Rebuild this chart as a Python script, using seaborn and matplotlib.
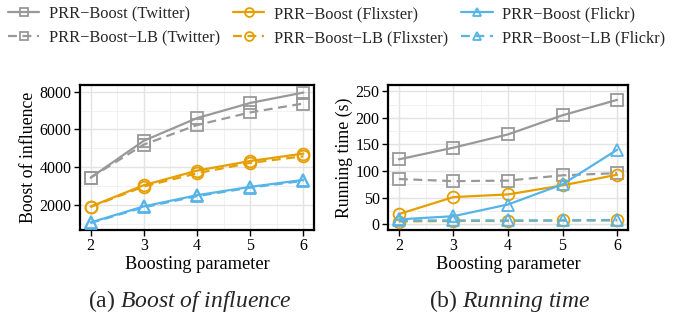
import numpy as np
import pandas as pd
import matplotlib
matplotlib.use("Agg")
import matplotlib.pyplot as plt
from matplotlib.ticker import MultipleLocator
import seaborn as sns

sns.set_theme(style="white")
plt.rcParams["font.family"] = ["Liberation Serif", "DejaVu Serif"]
plt.rcParams["mathtext.fontset"] = "custom"
plt.rcParams["mathtext.rm"] = "Liberation Serif"
plt.rcParams["mathtext.it"] = "Liberation Serif:italic"

k = [2, 3, 4, 5, 6]

# Boost of influence
boost_twitter = [3450, 5400, 6600, 7400, 7950]
boost_twitter_lb = [3450, 5200, 6230, 6900, 7370]
boost_flixster = [1920, 3050, 3820, 4330, 4720]
boost_flixster_lb = [1900, 2980, 3680, 4230, 4580]
boost_flickr = [1080, 1930, 2520, 2960, 3330]
boost_flickr_lb = [1050, 1880, 2470, 2920, 3280]

# Running time (s)
time_twitter = [122, 144, 169, 205, 234]
time_twitter_lb = [85, 81, 82, 92, 96]
time_flixster = [19, 51, 56, 73, 93]
time_flixster_lb = [5, 6, 6, 7, 7]
time_flickr = [9, 15, 37, 75, 140]
time_flickr_lb = [7, 7, 7, 7, 8]

labels = ["PRR\u2212Boost (Twitter)", "PRR\u2212Boost\u2212LB (Twitter)",
          "PRR\u2212Boost (Flixster)", "PRR\u2212Boost\u2212LB (Flixster)",
          "PRR\u2212Boost (Flickr)", "PRR\u2212Boost\u2212LB (Flickr)"]
colors = ["#999999", "#999999", "#E69F00", "#E69F00", "#56B4E9", "#56B4E9"]
markers = ["s", "s", "o", "o", "^", "^"]
dashed = [False, True, False, True, False, True]

boost_series = [boost_twitter, boost_twitter_lb, boost_flixster, boost_flixster_lb,
                boost_flickr, boost_flickr_lb]
time_series = [time_twitter, time_twitter_lb, time_flixster, time_flixster_lb,
               time_flickr, time_flickr_lb]

fig = plt.figure(figsize=(6.85, 3.13), dpi=100)
ax1 = fig.add_axes([80 / 685, 83 / 313, 234 / 685, 145 / 313])
ax2 = fig.add_axes([388 / 685, 83 / 313, 240 / 685, 145 / 313])


def draw(ax, series):
    handles = []
    for vals, lab, c, m, d in zip(series, labels, colors, markers, dashed):
        df = pd.DataFrame({"k": k, "v": vals})
        sns.lineplot(data=df, x="k", y="v", ax=ax, color=c, linewidth=1.6,
                     marker=m, markersize=8.5, markerfacecolor="none",
                     markeredgecolor=c, markeredgewidth=1.3,
                     linestyle=(0, (4, 2.5)) if d else "-", label=lab,
                     legend=False, clip_on=False, zorder=3)
        handles.append(ax.lines[-1])
    return handles


handles = draw(ax1, boost_series)
draw(ax2, time_series)

for ax in (ax1, ax2):
    ax.set_xlim(1.8, 6.2)
    ax.xaxis.set_major_locator(MultipleLocator(1))
    ax.xaxis.set_minor_locator(MultipleLocator(0.5))
    ax.grid(True, which="major", color="#e3e3e3", linewidth=1.0, zorder=0)
    ax.grid(True, which="minor", color="#efefef", linewidth=0.6, zorder=0)
    ax.set_axisbelow(True)
    for s in ax.spines.values():
        s.set_color("black")
        s.set_linewidth(1.6)
    ax.tick_params(axis="both", which="major", direction="out", length=4,
                   width=1, color="black", labelsize=11.5, labelcolor="black",
                   bottom=True, left=True, pad=2)
    ax.tick_params(axis="both", which="minor", length=0)
    ax.set_xlabel("Boosting parameter", fontsize=13.2, labelpad=1, color="black")

ax1.set_ylim(680, 8350)
ax1.yaxis.set_major_locator(MultipleLocator(2000))
ax1.yaxis.set_minor_locator(MultipleLocator(1000))
ax1.set_ylabel("Boost of influence", fontsize=12.8, labelpad=2, color="black")

ax2.set_ylim(-11, 262)
ax2.yaxis.set_major_locator(MultipleLocator(50))
ax2.yaxis.set_minor_locator(MultipleLocator(25))
ax2.set_ylabel("Running time (s)", fontsize=12.8, labelpad=2, color="black")

fig.legend(handles=handles, labels=labels, ncol=3, loc="upper left",
           bbox_to_anchor=(8 / 685, 1 - 6 / 313), frameon=False, fontsize=11.8,
           handlelength=1.9, columnspacing=0.8, handletextpad=0.6,
           labelspacing=0.5, borderpad=0, borderaxespad=0, markerscale=0.75)

fig.text(190 / 685, 1 - 307 / 313, "(a) $\\it{Boost\\ of\\ influence}$",
         ha="center", va="baseline", fontsize=17)
fig.text(510 / 685, 1 - 307 / 313, "(b) $\\it{Running\\ time}$",
         ha="center", va="baseline", fontsize=17)

fig.savefig("out.png", dpi=100)
